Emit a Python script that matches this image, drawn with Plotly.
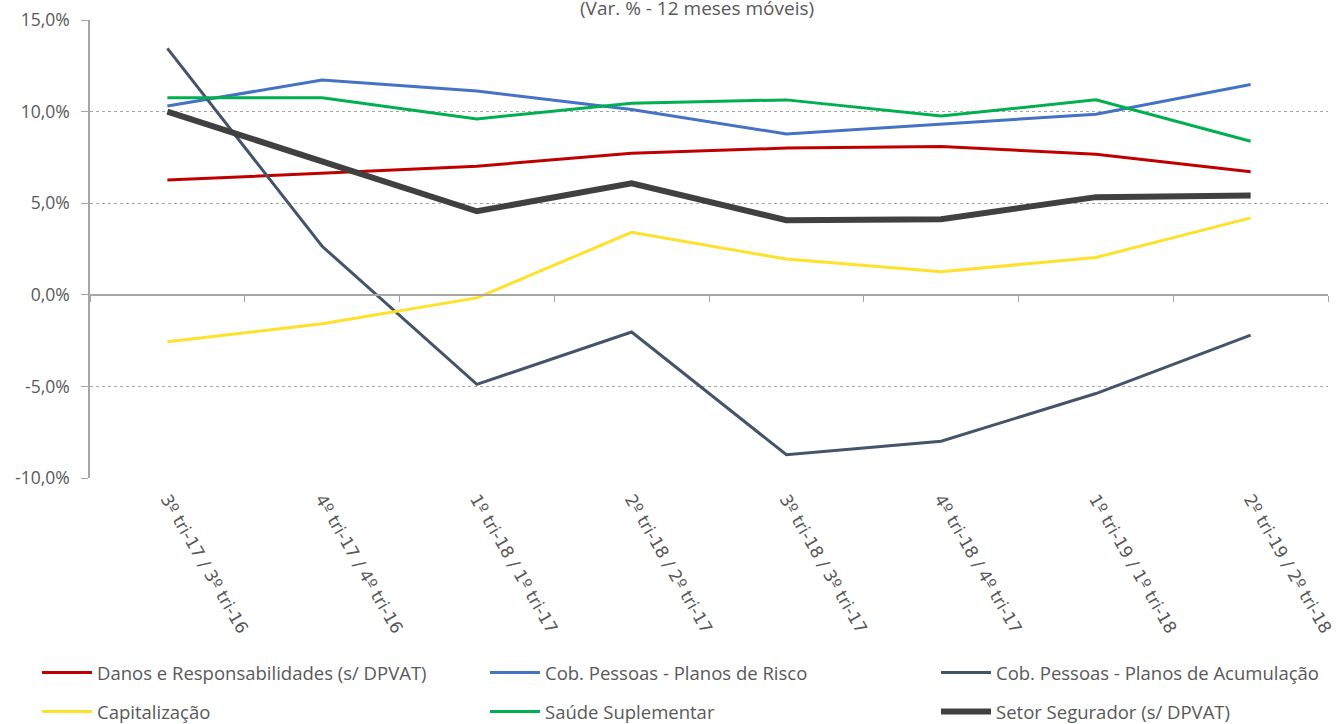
import plotly.graph_objects as go

categories = ["3º tri-17 / 3º tri-16", "4º tri-17 / 4º tri-16", "1º tri-18 / 1º tri-17",
              "2º tri-18 / 2º tri-17", "3º tri-18 / 3º tri-17", "4º tri-18 / 4º tri-17",
              "1º tri-19 / 1º tri-18", "2º tri-19 / 2º tri-18"]

danos = [6.26, 6.66, 7.02, 7.72, 8.01, 8.10, 7.67, 6.72]
risco = [10.31, 11.72, 11.12, 10.12, 8.78, 9.34, 9.86, 11.48]
acumulacao = [13.45, 2.65, -4.89, -2.03, -8.73, -7.99, -5.39, -2.20]
capitalizacao = [-2.56, -1.58, -0.17, 3.41, 1.95, 1.26, 2.04, 4.20]
saude = [10.75, 10.75, 9.60, 10.46, 10.64, 9.76, 10.64, 8.38]
setor = [10.0, 7.25, 4.56, 6.08, 4.07, 4.12, 5.33, 5.42]

y_ticks = [-10, -5, 0, 5, 10, 15]
y_tick_labels = [f"{v:.1f}%".replace(".", ",") for v in y_ticks]
title_text = "(Var. % - 12 meses móveis)"

series = [
    ("Danos e Responsabilidades (s/ DPVAT)", danos, "#C00000", 3, "legend", 1),
    ("Cob. Pessoas - Planos de Risco", risco, "#4472C4", 3, "legend2", 1),
    ("Cob. Pessoas - Planos de Acumulação", acumulacao, "#44546A", 3, "legend3", 1),
    ("Capitalização", capitalizacao, "#FFE12B", 3, "legend", 2),
    ("Saúde Suplementar", saude, "#00B050", 3, "legend2", 2),
    ("Setor Segurador (s/ DPVAT)", setor, "#404040", 6, "legend3", 2),
]

fig = go.Figure()
for name, vals, color, width, leg, rank in series:
    fig.add_trace(go.Scatter(
        x=categories, y=vals, name=name, mode="lines",
        line=dict(color=color, width=width),
        legend=leg, legendrank=rank, legendgroup=name,
    ))

# helper trace for the category axis drawn at zero
fig.add_trace(go.Scatter(x=categories, y=[None] * len(categories), xaxis="x2",
                         showlegend=False, hoverinfo="skip", mode="lines"))

W, H = 1341, 724
ML, MR, MT, MB = 90, 13, 20, 246
plot_w = W - ML - MR
plot_h = H - MT - MB


def px_x(p):
    return (p - ML) / plot_w


def px_y(p):
    return (H - MB - p) / plot_h


legend_common = dict(
    orientation="v", yanchor="top", xanchor="left",
    font=dict(family="Open Sans", size=18.5, color="#595959"),
    bgcolor="rgba(0,0,0,0)", tracegroupgap=12, itemwidth=50,
    traceorder="grouped",
)
leg_y = px_y(654)

fig.update_layout(
    width=W, height=H,
    margin=dict(l=ML, r=MR, t=MT, b=MB, autoexpand=False),
    paper_bgcolor="white", plot_bgcolor="white",
    showlegend=True,
    legend=dict(x=px_x(37), y=leg_y, **legend_common),
    legend2=dict(x=px_x(485), y=leg_y, **legend_common),
    legend3=dict(x=px_x(936), y=leg_y, **legend_common),
    xaxis=dict(
        type="category", categoryorder="array", categoryarray=categories,
        range=[-0.5, len(categories) - 0.5],
        showgrid=False, zeroline=False, showline=False, ticks="",
        tickangle=60, ticklabelstandoff=7,
        tickfont=dict(family="DejaVu Sans", size=17, color="#595959"),
    ),
    xaxis2=dict(
        type="category", categoryorder="array", categoryarray=categories,
        range=[-0.5, len(categories) - 0.5],
        overlaying="x", anchor="free", position=10 / 25,
        showgrid=False, zeroline=False, showline=True, linecolor="#A6A6A6", linewidth=1.5,
        ticks="outside", tickson="boundaries", ticklen=6, tickcolor="#A6A6A6",
        showticklabels=False,
    ),
    yaxis=dict(
        range=[-10, 15], tickvals=y_ticks, ticktext=y_tick_labels,
        showgrid=True, gridcolor="#A6A6A6", griddash="dot", gridwidth=1,
        zeroline=False,
        showline=True, linecolor="#A6A6A6", linewidth=1.5,
        ticks="outside", ticklen=7, tickcolor="#A6A6A6", ticklabelstandoff=8,
        tickfont=dict(family="Open Sans", size=17.5, color="#595959"),
    ),
    annotations=[dict(
        text=title_text, xref="paper", yref="paper", x=px_x(697), y=px_y(8),
        xanchor="center", yanchor="middle", showarrow=False,
        font=dict(family="Open Sans", size=19, color="#595959"),
    )],
)

fig.write_html("out.html", config={"displayModeBar": False},
               post_script="document.body.style.margin='0px';")
